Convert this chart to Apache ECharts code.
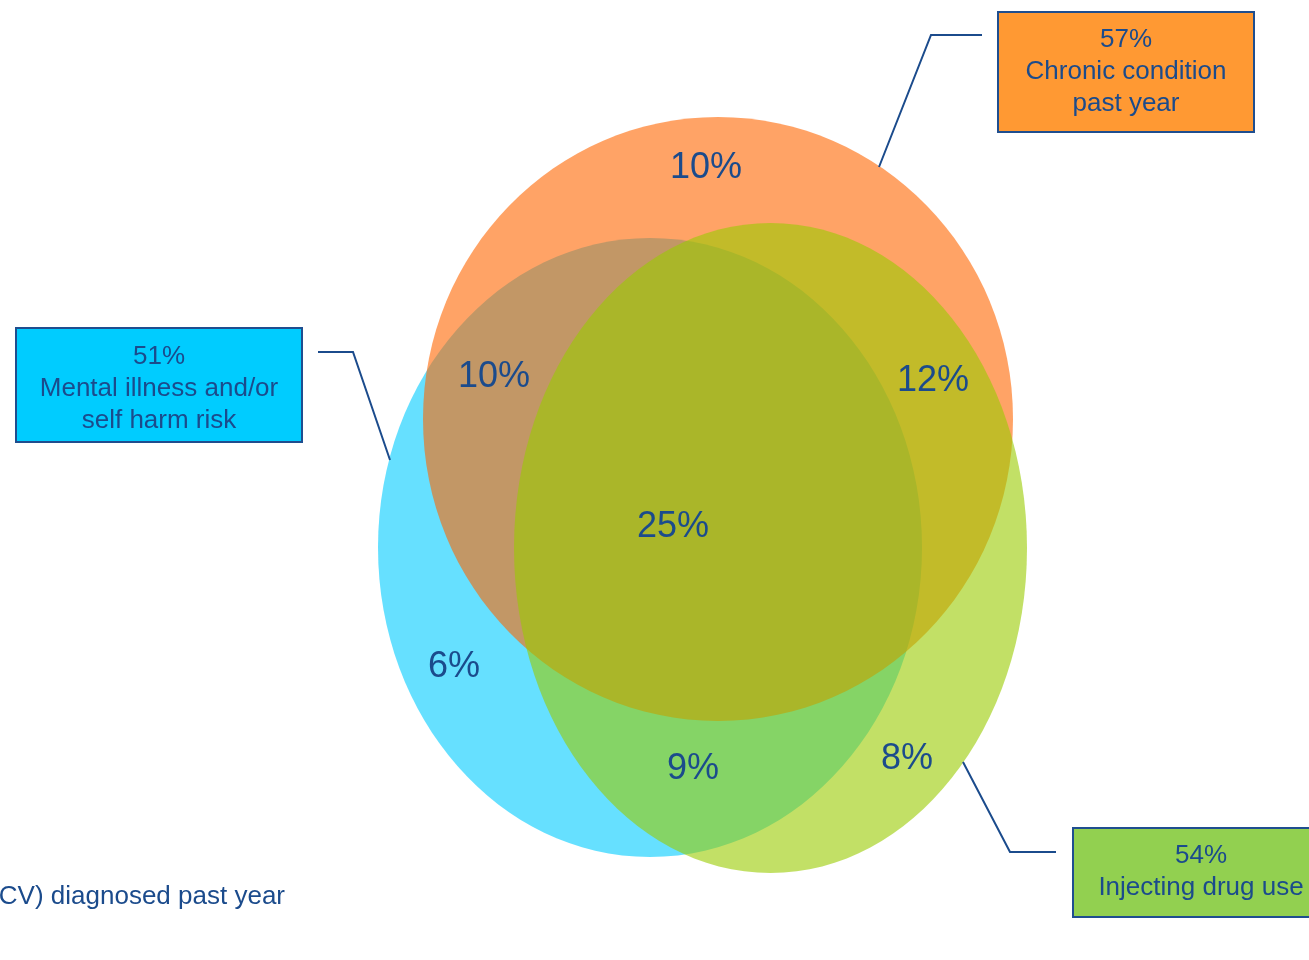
<!DOCTYPE html>
<html>
<head>
<meta charset="utf-8">
<script src="https://cdn.jsdelivr.net/npm/echarts@6/dist/echarts.min.js"></script>
<style>
  html, body { margin: 0; padding: 0; background: #ffffff; }
  #chart { width: 1309px; height: 960px; }
</style>
</head>
<body>
<div id="chart"></div>
<script>
// ---- Data ----
const setNames = ['Mental illness and/or\nself harm risk', 'Chronic condition\npast year', 'Injecting drug use'];
const setPct = [51, 57, 54];

// Share in each region of the diagram:
// chronic only, mental+chronic, chronic+injecting, all three, mental only, mental+injecting, injecting only
const regionPct = [10, 10, 12, 25, 6, 9, 8];

const footnote = 'Blood borne virus (HBV/HCV) diagnosed past year';

// ---- Layout (plane units, 1309 x 960 plane, y grows downward) ----
const setCx = [650, 718, 770.5];
const setCy = [547.5, 419, 548];
const setRx = [272, 295, 256.5];
const setRy = [309.5, 302, 325];

const regionX = [706, 494, 933, 673, 454, 693, 907];
const regionY = [168, 377, 381, 527, 667, 769, 759];

const boxCx = [159, 1126, 1201];
const boxCy = [385, 72, 872.5];
const boxW = [286, 256, 256];
const boxH = [114, 120, 89];
const boxTextCy = [389, 72, 871.5];
const leaderX = [[318, 353, 390], [879, 931, 982], [963, 1010, 1056]];
const leaderY = [[352, 352, 460], [167, 35, 35], [762, 852, 852]];

const footX = 285, footY = 897;

// ---- Styles ----
const FONT = '"Liberation Sans", Arial, sans-serif';
const INK = '#1b4b8c';
const setFill = ['rgba(0,204,255,0.6)', 'rgba(255,102,0,0.6)', 'rgba(153,204,0,0.6)'];
const boxFill = ['#00ccff', '#ff9933', '#92d050'];

const chart = echarts.init(document.getElementById('chart'), null, { renderer: 'canvas' });

const option = {
  animation: false,
  backgroundColor: '#ffffff',
  grid: { left: 0, right: 0, top: 0, bottom: 0 },
  xAxis: { type: 'value', min: 0, max: 1309, show: false },
  yAxis: { type: 'value', min: 0, max: 960, inverse: true, show: false },
  series: [
    {
      // set ellipses
      type: 'custom',
      clip: false,
      data: setPct.map((v, i) => [setCx[i], setCy[i], v]),
      renderItem: function (params, api) {
        const i = params.dataIndex;
        const c = api.coord([setCx[i], setCy[i]]);
        const s = api.size([setRx[i], setRy[i]], [setCx[i], setCy[i]]);
        return {
          type: 'ellipse',
          shape: { cx: c[0], cy: c[1], rx: s[0], ry: s[1] },
          style: { fill: setFill[i] }
        };
      }
    },
    {
      // region percentages
      type: 'custom',
      clip: false,
      data: regionPct.map((v, i) => [regionX[i], regionY[i], v]),
      renderItem: function (params, api) {
        const i = params.dataIndex;
        const c = api.coord([regionX[i], regionY[i]]);
        return {
          type: 'text',
          x: c[0], y: c[1],
          style: {
            text: regionPct[i] + '%',
            fill: INK,
            font: '36px ' + FONT,
            align: 'center',
            verticalAlign: 'middle'
          }
        };
      }
    },
    {
      // callout boxes with leader lines
      type: 'custom',
      clip: false,
      data: setPct.map((v, i) => [boxCx[i], boxCy[i], v]),
      renderItem: function (params, api) {
        const i = params.dataIndex;
        const pts = leaderX[i].map((x, k) => api.coord([x, leaderY[i][k]]));
        const c = api.coord([boxCx[i], boxCy[i]]);
        const s = api.size([boxW[i], boxH[i]], [boxCx[i], boxCy[i]]);
        const t = api.coord([boxCx[i], boxTextCy[i]]);
        return {
          type: 'group',
          children: [
            {
              type: 'polyline',
              shape: { points: pts },
              style: { stroke: INK, lineWidth: 2, fill: null }
            },
            {
              type: 'rect',
              shape: { x: c[0] - s[0] / 2, y: c[1] - s[1] / 2, width: s[0], height: s[1] },
              style: { fill: boxFill[i], stroke: '#1f4e8f', lineWidth: 2 }
            },
            {
              type: 'text',
              x: t[0], y: t[1],
              style: {
                text: setPct[i] + '%\n' + setNames[i],
                fill: INK,
                font: '26px ' + FONT,
                lineHeight: 32,
                align: 'center',
                verticalAlign: 'middle'
              }
            }
          ]
        };
      }
    },
    {
      // label partly outside the plane on the left
      type: 'custom',
      clip: false,
      data: [[footX, footY]],
      renderItem: function (params, api) {
        const c = api.coord([footX, footY]);
        return {
          type: 'text',
          x: c[0], y: c[1],
          style: {
            text: footnote,
            fill: INK,
            font: '26px ' + FONT,
            align: 'right',
            verticalAlign: 'middle'
          }
        };
      }
    }
  ]
};

chart.setOption(option);
</script>
</body>
</html>
